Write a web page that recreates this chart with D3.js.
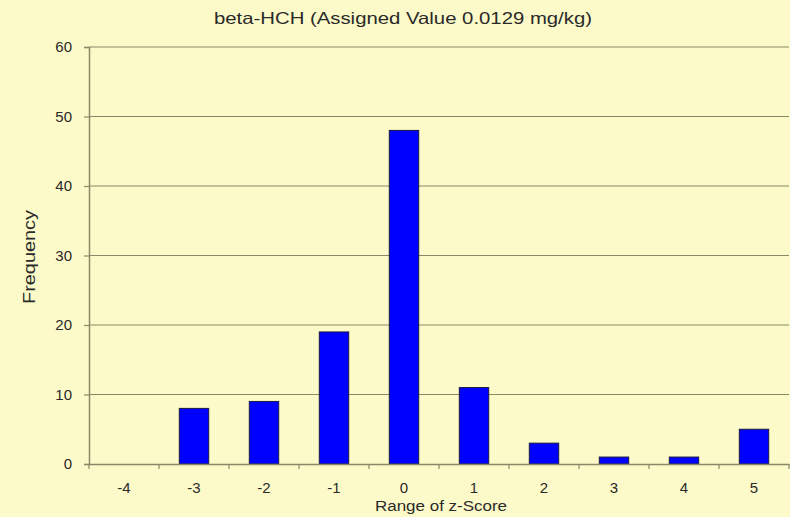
<!DOCTYPE html>
<html>
<head>
<meta charset="utf-8">
<script src="https://cdn.jsdelivr.net/npm/d3@7"></script>
<style>
  body { margin: 0; background: #fdfac9; }
  svg { display: block; font-family: "Liberation Sans", Arial, sans-serif; }
</style>
</head>
<body>
<svg width="790" height="517"></svg>
<script>
var categories = ["-4", "-3", "-2", "-1", "0", "1", "2", "3", "4", "5"];
var frequency = [0, 8, 9, 19, 48, 11, 3, 1, 1, 5];
var yTicks = [0, 10, 20, 30, 40, 50, 60];

var svg = d3.select("svg"),
    width = +svg.attr("width"),
    height = +svg.attr("height");

var margin = {top: 47, right: 1, bottom: 53, left: 89};
var innerW = width - margin.left - margin.right,
    innerH = height - margin.top - margin.bottom;

var x = d3.scaleBand()
    .domain(categories)
    .range([margin.left, margin.left + innerW])
    .paddingInner(0.58)
    .paddingOuter(0.29);

var y = d3.scaleLinear()
    .domain([0, 60])
    .range([margin.top + innerH, margin.top]);

svg.append("rect")
    .attr("width", width).attr("height", height)
    .attr("fill", "#fdfac9");

// gridlines
svg.append("g")
    .selectAll("line")
    .data(yTicks.filter(d => d > 0))
    .enter().append("line")
        .attr("x1", margin.left).attr("x2", margin.left + innerW)
        .attr("y1", d => y(d)).attr("y2", d => y(d))
        .attr("stroke", "#8a8868").attr("stroke-width", 1.2);

// bars
svg.append("g")
    .selectAll("rect")
    .data(frequency)
    .enter().append("rect")
        .attr("x", (d, i) => x(categories[i]))
        .attr("y", d => y(d))
        .attr("width", x.bandwidth())
        .attr("height", d => y(0) - y(d))
        .attr("fill", "#0000ff")
        .attr("stroke", "#1a1a40")
        .attr("stroke-width", d => d > 0 ? 1 : 0);

// y axis
var yAxis = svg.append("g")
    .attr("transform", "translate(" + margin.left + ",0)")
    .call(d3.axisLeft(y).tickValues(yTicks).tickSize(5).tickPadding(12));
yAxis.select(".domain").attr("stroke", "#8a8868").attr("stroke-width", 1.5);
yAxis.selectAll(".tick line").attr("stroke", "#8a8868").attr("stroke-width", 1.2);
yAxis.selectAll("text").attr("font-size", 15).attr("fill", "#2a2a2a").attr("font-family", "Liberation Sans, Arial, sans-serif");

// x axis (ticks between categories)
var step = x.step();
var bounds = d3.range(categories.length + 1).map(i => margin.left + i * step);
var xAxis = svg.append("g")
    .attr("transform", "translate(0," + y(0) + ")")
    .call(d3.axisBottom(x).tickSize(0).tickPadding(18));
xAxis.select(".domain").attr("stroke", "#8a8868").attr("stroke-width", 1.5);
xAxis.selectAll("text").attr("font-size", 15).attr("fill", "#2a2a2a").attr("font-family", "Liberation Sans, Arial, sans-serif");
xAxis.selectAll(".boundary")
    .data(bounds)
    .enter().append("line")
        .attr("x1", d => d).attr("x2", d => d)
        .attr("y1", 0).attr("y2", 5)
        .attr("stroke", "#8a8868").attr("stroke-width", 1.2);

// title
svg.append("text")
    .attr("x", 403).attr("y", 24)
    .attr("text-anchor", "middle")
    .attr("font-size", 16.5)
    .attr("fill", "#2a2a2a")
    .attr("textLength", 378)
    .attr("lengthAdjust", "spacingAndGlyphs")
    .text("beta-HCH (Assigned Value 0.0129 mg/kg)");

// axis titles
svg.append("text")
    .attr("x", margin.left + innerW / 2 + 2).attr("y", 511)
    .attr("text-anchor", "middle")
    .attr("font-size", 15.5)
    .attr("fill", "#2a2a2a")
    .attr("textLength", 132)
    .attr("lengthAdjust", "spacingAndGlyphs")
    .text("Range of z-Score");

svg.append("text")
    .attr("transform", "translate(35,257) rotate(-90)")
    .attr("text-anchor", "middle")
    .attr("font-size", 16.5)
    .attr("fill", "#2a2a2a")
    .attr("textLength", 94)
    .attr("lengthAdjust", "spacingAndGlyphs")
    .text("Frequency");
</script>
</body>
</html>
